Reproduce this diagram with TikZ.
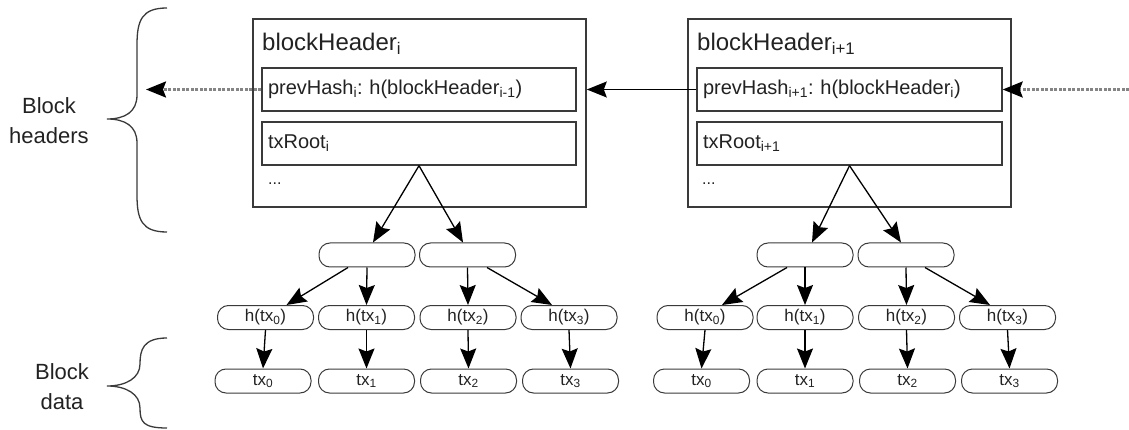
\documentclass[tikz,border=0pt]{standalone}
\usepackage{fontspec}
\setmainfont{Liberation Sans}
\usetikzlibrary{arrows.meta,calc}
\definecolor{ln}{HTML}{3A3A3A}
\definecolor{tx}{HTML}{222222}
\definecolor{dsh}{HTML}{858585}
\frenchspacing
\begin{document}
\begin{tikzpicture}[x=1pt,y=-1pt,
  every node/.style={text=tx},
  hdr/.style={draw=ln, line width=1.6pt, inner sep=0pt, minimum height=188pt},
  fld/.style={draw=ln, line width=1.4pt, minimum height=43pt, inner xsep=6pt, inner ysep=0pt, align=left, font=\fontsize{20}{24}\selectfont},
  ttl/.style={anchor=west, inner sep=0pt, font=\fontsize{24}{28}\selectfont},
  dots/.style={anchor=west, inner sep=0pt, font=\fontsize{16}{18}\selectfont},
  pill/.style={draw=ln, line width=1pt, rounded corners=11pt, minimum width=96pt, minimum height=24pt, inner sep=0pt, font=\fontsize{17}{19}\selectfont},
  arr/.style={-{Stealth[length=20pt,width=16pt,inset=3pt]}, line width=1.3pt, draw=black},
  darr/.style={-{Stealth[length=20pt,width=16pt,inset=3pt,color=black]}, line width=2.4pt, draw=dsh, dash pattern=on 3pt off 1.5pt},
  brace/.style={draw=ln, line width=1.3pt},
  lbl/.style={align=center, font=\fontsize{22}{30}\selectfont, inner sep=0pt}
]
\useasboundingbox (0,0) rectangle (1129,430);

% side labels and braces
\node[lbl] (lh) at (49,121) {Block\\headers};
\node[lbl] (ld) at (62,387) {Block\\data};
\draw[brace] (167,8) .. controls (142,8) and (137,20) .. (137,45) -- (137,95)
  .. controls (137,112) and (125,119) .. (107,119)
  .. controls (125,119) and (137,126) .. (137,143) -- (137,195)
  .. controls (137,220) and (142,232) .. (167,232);
\draw[brace] (167,338) .. controls (143,338) and (140,350) .. (140,364)
  .. controls (140,378) and (126,386) .. (107,386)
  .. controls (126,386) and (140,394) .. (140,408)
  .. controls (140,422) and (143,428) .. (167,428);

% header i
\node[hdr, minimum width=333pt] (H1) at (419.5,113) {};
\node[ttl] (T1) at (262,44) {blockHeader\textsubscript{i}};
\node[fld, text width=302pt] (P1) at (419,89.5) {prevHash\textsubscript{i}: h(blockHeader\textsubscript{i-1})};
\node[fld, text width=302pt] (R1) at (419,143.5) {txRoot\textsubscript{i}};
\node[dots] (D1) at (268,184) {...};

% header i+1
\node[hdr, minimum width=323pt] (H2) at (849.5,113) {};
\node[ttl] (T2) at (697,44) {blockHeader\textsubscript{i+1}};
\node[fld, text width=293pt] (P2) at (849.5,89.5) {prevHash\textsubscript{i+1}: h(blockHeader\textsubscript{i})};
\node[fld, text width=293pt] (R2) at (849.5,143.5) {txRoot\textsubscript{i+1}};
\node[dots] (D2) at (702,184) {...};

% chain arrows
\coordinate (lend) at (146,89.5);
\coordinate (rend) at (1129,89.5);
\draw[darr] (P1.west) -- (lend);
\draw[arr] (P2.west) -- (P2.west -| H1.east);
\draw[darr] (rend) -- (P2.east);

% left tree
\node[pill] (m1a) at (367,255) {};
\node[pill] (m1b) at (467.5,255) {};
\node[pill] (h10) at (265.5,317.5) {h(tx\textsubscript{0})};
\node[pill] (h11) at (366.5,317.5) {h(tx\textsubscript{1})};
\node[pill] (h12) at (468,317.5) {h(tx\textsubscript{2})};
\node[pill] (h13) at (569,317.5) {h(tx\textsubscript{3})};
\node[pill] (t10) at (263,381) {tx\textsubscript{0}};
\node[pill] (t11) at (366.5,381) {tx\textsubscript{1}};
\node[pill] (t12) at (468.5,381) {tx\textsubscript{2}};
\node[pill] (t13) at (570.5,381) {tx\textsubscript{3}};
\draw[arr] (R1.south) -- ([xshift=6pt]m1a.north);
\draw[arr] (R1.south) -- ([xshift=-4.5pt]m1b.north);
\draw[arr] ([xshift=-19pt]m1a.south) -- ([xshift=21pt]h10.north);
\draw[arr] (m1a.south) -- (h11.north);
\draw[arr] (m1b.south) -- (h12.north);
\draw[arr] ([xshift=19.5pt]m1b.south) -- ([xshift=-17pt]h13.north);
\draw[arr] (h10.south) -- (t10.north);
\draw[arr] (h11.south) -- (t11.north);
\draw[arr] (h12.south) -- (t12.north);
\draw[arr] (h13.south) -- (t13.north);

% right tree
\node[pill] (m2a) at (805,255) {};
\node[pill] (m2b) at (906,255) {};
\node[pill] (h20) at (705,317.5) {h(tx\textsubscript{0})};
\node[pill] (h21) at (805,317.5) {h(tx\textsubscript{1})};
\node[pill] (h22) at (906.5,317.5) {h(tx\textsubscript{2})};
\node[pill] (h23) at (1007.5,317.5) {h(tx\textsubscript{3})};
\node[pill] (t20) at (701.5,381) {tx\textsubscript{0}};
\node[pill] (t21) at (805,381) {tx\textsubscript{1}};
\node[pill] (t22) at (907.5,381) {tx\textsubscript{2}};
\node[pill] (t23) at (1009.5,381) {tx\textsubscript{3}};
\draw[arr] (R2.south) -- ([xshift=7pt]m2a.north);
\draw[arr] (R2.south) -- ([xshift=-5pt]m2b.north);
\draw[arr] ([xshift=-18pt]m2a.south) -- ([xshift=17pt]h20.north);
\draw[arr] (m2a.south) -- (h21.north);
\draw[arr] (m2b.south) -- (h22.north);
\draw[arr] ([xshift=19pt]m2b.south) -- ([xshift=-17.5pt]h23.north);
\draw[arr] (h20.south) -- (t20.north);
\draw[arr] (h21.south) -- (t21.north);
\draw[arr] (h22.south) -- (t22.north);
\draw[arr] (h23.south) -- (t23.north);
\end{tikzpicture}
\end{document}
